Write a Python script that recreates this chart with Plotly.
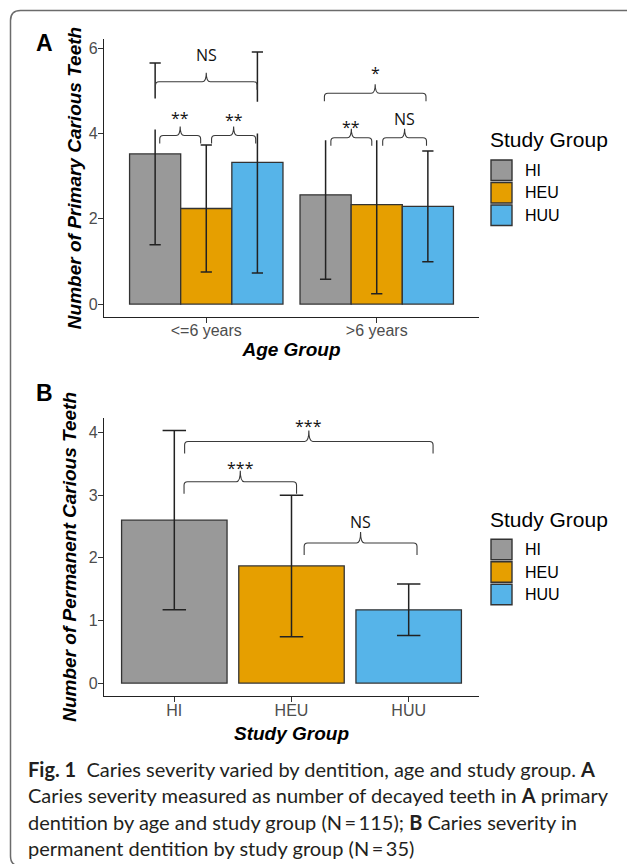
import plotly.graph_objects as go

W, H = 627, 864

# ---------------- data ----------------
age_groups = ["&lt;=6 years", ">6 years"]
study_groups = ["HI", "HEU", "HUU"]
group_colors = ["#999999", "#E69F00", "#56B4E9"]

# Panel A: primary carious teeth (mean, SD) per age group
hi_primary_mean = [3.52, 2.56]
heu_primary_mean = [2.24, 2.33]
huu_primary_mean = [3.32, 2.29]
hi_primary_sd = [2.13, 1.98]
heu_primary_sd = [1.49, 2.09]
huu_primary_sd = [2.59, 1.30]
# parts of the upper whiskers that are blanked out in the published figure
hi_primary_hidden = [(4.09, 4.82), (3.84, 99)]
heu_primary_hidden = [None, (3.84, 99)]
huu_primary_hidden = [(4.00, 4.74), None]

# Panel B: permanent carious teeth (mean, SD) per study group
permanent_mean = [2.60, 1.87, 1.17]
permanent_sd = [1.43, 1.13, 0.41]

# significance brackets: (x start, x end, y level, label, label y)
brackets_A = [
    (-0.298, 0.298, 5.21, "NS", 5.835),
    (-0.273, -0.033, 3.95, "**", 4.36),
    (0.031, 0.290, 3.95, "**", 4.31),
    (0.693, 1.289, 4.94, "*", 5.42),
    (0.731, 0.971, 3.90, "**", 4.14),
    (1.035, 1.292, 3.90, "NS", 4.33),
]
brackets_B = [
    (0.088, 2.208, 3.857, "***", 4.11),
    (0.083, 1.043, 3.213, "***", 3.43),
    (1.108, 2.071, 2.236, "NS", 2.566),
]

caption_lines = [
    "<b>Fig. 1</b>  Caries severity varied by dentition, age and study group. <b>A</b>",
    "Caries severity measured as number of decayed teeth in <b>A</b> primary",
    "dentition by age and study group (N\u2009=\u2009115); <b>B</b> Caries severity in",
    "permanent dentition by study group (N\u2009=\u200935)",
]

# ---------------- layout helpers ----------------
def pxx(p):
    return p / W

def pyy(p):
    return 1 - p / H

AX_L, AX_R = 104, 479
A_TOP, A_BOT = 39.3, 316.7
B_TOP, B_BOT = 418.0, 695.7

AXFONT = "Liberation Sans, Arial, sans-serif"
LINE = "#333333"

fig = go.Figure()

# ---------------- Panel A bars ----------------
means_A = [hi_primary_mean, heu_primary_mean, huu_primary_mean]
sds_A = [hi_primary_sd, heu_primary_sd, huu_primary_sd]
hidden_A = [hi_primary_hidden, heu_primary_hidden, huu_primary_hidden]
xA = list(range(len(age_groups)))
for name, col, m in zip(study_groups, group_colors, means_A):
    fig.add_trace(go.Bar(x=xA, y=m, name=name, marker=dict(color=col, line=dict(color=LINE, width=1.3)),
                         xaxis="x", yaxis="y", showlegend=False, hoverinfo="skip"))

# ---------------- Panel B bars ----------------
xB = list(range(len(study_groups)))
fig.add_trace(go.Bar(x=xB, y=permanent_mean, width=0.9,
                     marker=dict(color=group_colors, line=dict(color=LINE, width=1.3)),
                     xaxis="x2", yaxis="y2", showlegend=False, hoverinfo="skip"))


def errorbar_xy(xs, lows, highs, hiddens, half_cap):
    X, Y = [], []
    for x, lo, hi, hid in zip(xs, lows, highs, hiddens):
        X += [x - half_cap, x + half_cap, None]
        Y += [lo, lo, None]
        if hid is None:
            X += [x, x, None, x - half_cap, x + half_cap, None]
            Y += [lo, hi, None, hi, hi, None]
        else:
            X += [x, x, None]
            Y += [lo, hid[0], None]
            if hid[1] < hi:
                X += [x, x, None, x - half_cap, x + half_cap, None]
                Y += [hid[1], hi, None, hi, hi, None]
    return X, Y

# Panel A error bars (dodged positions)
n = len(study_groups)
bar_w = 0.9 / n
for i in range(n):
    off = (i - (n - 1) / 2) * bar_w
    xs = [g + off for g in xA]
    lows = [m - s for m, s in zip(means_A[i], sds_A[i])]
    highs = [m + s for m, s in zip(means_A[i], sds_A[i])]
    X, Y = errorbar_xy(xs, lows, highs, hidden_A[i], 0.033)
    fig.add_trace(go.Scatter(x=X, y=Y, mode="lines", line=dict(color="#222222", width=1.5),
                             xaxis="x", yaxis="y", showlegend=False, hoverinfo="skip"))

# Panel B error bars
lowsB = [m - s for m, s in zip(permanent_mean, permanent_sd)]
highsB = [m + s for m, s in zip(permanent_mean, permanent_sd)]
X, Y = errorbar_xy(xB, lowsB, highsB, [None] * len(xB), 0.1)
fig.add_trace(go.Scatter(x=X, y=Y, mode="lines", line=dict(color="#222222", width=1.5),
                         xaxis="x2", yaxis="y2", showlegend=False, hoverinfo="skip"))

# ---------------- axes ----------------
maxA = max(m + s for mm, ss in zip(means_A, sds_A) for m, s in zip(mm, ss))
maxB = max(highsB)
yrA = [-0.05 * maxA, 1.05 * maxA]
yrB = [-0.05 * maxB, 1.05 * maxB]
xrA = [-0.6, len(age_groups) - 1 + 0.6]
xrB = [-0.6, len(study_groups) - 1 + 0.6]

common = dict(showgrid=False, zeroline=False, showline=True, linecolor="#222222", linewidth=1.3,
              ticks="outside", ticklen=5, tickwidth=1.2, tickcolor="#333333",
              tickfont=dict(family=AXFONT, size=16, color="#4D4D4D"))
title_font = dict(family=AXFONT, size=19, color="#000000")

fig.update_layout(
    width=W, height=H, margin=dict(l=0, r=0, t=0, b=0),
    paper_bgcolor="white", plot_bgcolor="white",
    barmode="group", bargap=0.1, bargroupgap=0,
    xaxis=dict(domain=[pxx(AX_L), pxx(AX_R)], range=xrA, anchor="y",
               tickvals=xA, ticktext=age_groups, ticklabelstandoff=-6,
               title=dict(text="<b><i>Age Group</i></b>", font=title_font, standoff=4), **common),
    yaxis=dict(domain=[pyy(A_BOT), pyy(A_TOP)], range=yrA, anchor="x",
               tickvals=[0, 2, 4, 6], ticklabelstandoff=-3,
               title=dict(text="<b><i>Number of Primary Carious Teeth</i></b>", font=title_font, standoff=2),
               **common),
    xaxis2=dict(domain=[pxx(AX_L), pxx(AX_R)], range=xrB, anchor="y2",
                tickvals=xB, ticktext=study_groups, ticklabelstandoff=-5,
                title=dict(text="<b><i>Study Group</i></b>", font=title_font, standoff=8), **common),
    yaxis2=dict(domain=[pyy(B_BOT), pyy(B_TOP)], range=yrB, anchor="x2",
                tickvals=[0, 1, 2, 3, 4], ticklabelstandoff=-3,
                title=dict(text="<b><i>Number of Permanent Carious Teeth</i></b>", font=title_font, standoff=7),
                **common),
)

# ---------------- brackets ----------------
shapes = []
annotations = []


def add_brackets(brackets, xref, yref, xr, yr, top, bot, tip_px, peak_px):
    ux = (xr[1] - xr[0]) / (AX_R - AX_L)
    uy = (yr[1] - yr[0]) / (bot - top)
    r = 3.5
    for x0, x1, y, lab, ly in brackets:
        xm = (x0 + x1) / 2
        rx, ry = r * ux, r * uy
        tip, peak = tip_px * uy, peak_px * uy
        rm = 4 * ux
        path = (f"M {x0},{y - tip} L {x0},{y - ry} Q {x0},{y} {x0 + rx},{y} "
                f"L {xm - rm},{y} Q {xm},{y} {xm},{y + peak} Q {xm},{y} {xm + rm},{y} "
                f"L {x1 - rx},{y} Q {x1},{y} {x1},{y - ry} L {x1},{y - tip}")
        shapes.append(dict(type="path", path=path, xref=xref, yref=yref,
                           line=dict(color="#3a3a3a", width=1.1)))
        annotations.append(dict(x=xm, y=ly, xref=xref, yref=yref, text=lab, showarrow=False,
                                font=dict(family="Open Sans, sans-serif", size=16, color="#111111"),
                                xanchor="center", yanchor="middle"))


add_brackets(brackets_A, "x", "y", xrA, yrA, A_TOP, A_BOT, 8, 9)
add_brackets(brackets_B, "x2", "y2", xrB, yrB, B_TOP, B_BOT, 12, 11)

# ---------------- manual legends ----------------
def add_legend(title_y, key_tops, key_h):
    annotations.append(dict(x=pxx(488), y=pyy(title_y), xref="paper", yref="paper", text="Study Group",
                            showarrow=False, xanchor="left", yanchor="middle",
                            font=dict(family=AXFONT, size=21, color="#000000")))
    for name, col, t in zip(study_groups, group_colors, key_tops):
        shapes.append(dict(type="rect", xref="paper", yref="paper",
                           x0=pxx(491), x1=pxx(512), y0=pyy(t + 1), y1=pyy(t + key_h - 1),
                           fillcolor=col, line=dict(color=LINE, width=1.4)))
        annotations.append(dict(x=pxx(523), y=pyy(t + key_h / 2), xref="paper", yref="paper", text=name,
                                showarrow=False, xanchor="left", yanchor="middle",
                                font=dict(family=AXFONT, size=16, color="#000000")))


add_legend(140, [159, 181.5, 204], 22.5)
add_legend(519, [538.3, 560.8, 583.3], 22.5)

# panel letters
for lab, yc in (("A", 43), ("B", 393)):
    annotations.append(dict(x=pxx(44), y=pyy(yc), xref="paper", yref="paper", text=f"<b>{lab}</b>",
                            showarrow=False, xanchor="center", yanchor="middle",
                            font=dict(family=AXFONT, size=23, color="#000000")))

# caption
for i, line in enumerate(caption_lines):
    annotations.append(dict(x=pxx(26), y=pyy(769 + i * 26.4), xref="paper", yref="paper", text=line,
                            showarrow=False, xanchor="left", yanchor="middle",
                            font=dict(family="Lato, sans-serif", size=20, color="#231F20")))

# outer frame (rounded top-left corner)
rr = 10
frame = (f"M {pxx(W + 5)},{pyy(10.5)} L {pxx(10.5 + rr)},{pyy(10.5)} "
         f"Q {pxx(10.5)},{pyy(10.5)} {pxx(10.5)},{pyy(10.5 + rr)} "
         f"L {pxx(10.5)},{pyy(866 - rr)} Q {pxx(10.5)},{pyy(866)} {pxx(10.5 + rr)},{pyy(866)} "
         f"L {pxx(W + 5)},{pyy(866)}")
shapes.append(dict(type="path", path=frame, xref="paper", yref="paper",
                   line=dict(color="#6b6b6b", width=1.5)))

fig.update_layout(shapes=shapes, annotations=annotations)
fig.write_html("out.html", config={"displayModeBar": False},
               post_script="document.body.style.margin='0';document.body.style.overflow='hidden';")
